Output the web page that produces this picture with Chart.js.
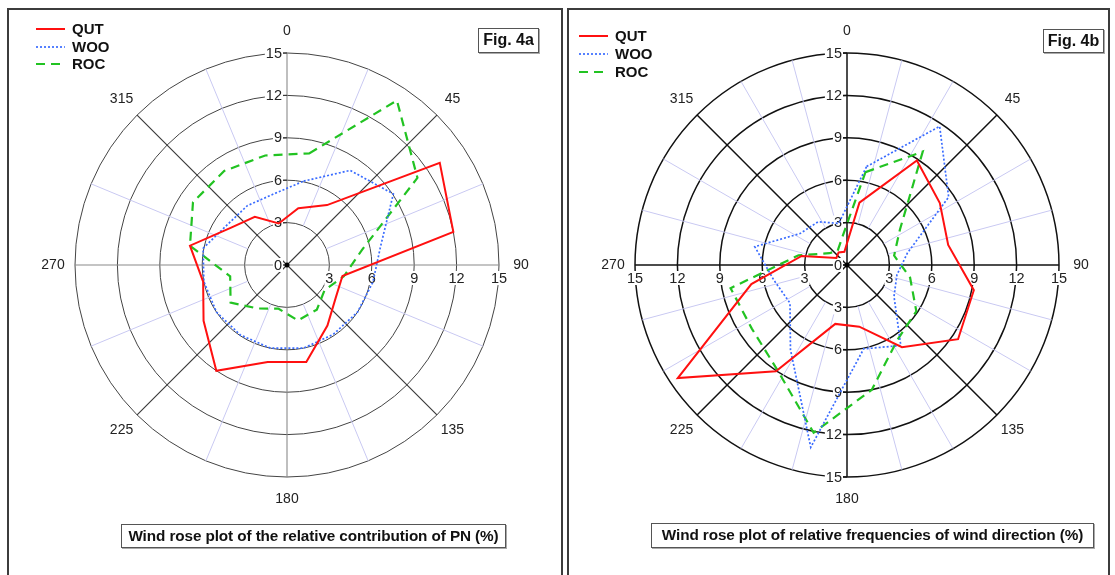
<!DOCTYPE html>
<html>
<head>
<meta charset="utf-8">
<script src="https://cdn.jsdelivr.net/npm/chart.js@4.4.0/dist/chart.umd.min.js"></script>
<style>
  body { margin: 0; background: #fff; font-family: Arial, "Liberation Sans", sans-serif; }
  #page { position: relative; width: 1115px; height: 575px; overflow: hidden; background: #fff; }
  .panel { position: absolute; top: 8px; height: 620px; border: 2px solid #3c3c3c; box-sizing: border-box; }
  canvas { position: absolute; top: 0; }
  .fig { position: absolute; border: 1.5px solid #555; box-sizing: border-box; font-weight: bold; font-size: 16px;
         text-align: center; color: #111; box-shadow: 1px 1px 0 #aaa; }
  .caption { position: absolute; border: 1.5px solid #555; box-sizing: border-box; font-weight: bold; font-size: 15.3px;
             text-align: center; color: #111; white-space: nowrap; box-shadow: 1px 1px 0 #aaa; letter-spacing: -0.1px; }
</style>
</head>
<body>
<div id="page">
  <div class="panel" style="left:7px; width:556px;"></div>
  <div class="panel" style="left:567px; width:543px;"></div>
  <canvas id="roseA" width="562" height="575" style="left:0px"></canvas>
  <canvas id="roseB" width="553" height="575" style="left:562px"></canvas>
  <div class="fig" style="left:478px; top:28px; width:61px; height:25px; line-height:22px;">Fig. 4a</div>
  <div class="fig" style="left:1043px; top:29px; width:61px; height:24px; line-height:21px;">Fig. 4b</div>
  <div class="caption" style="left:121px; top:524px; width:385px; height:24px; line-height:21px;">Wind rose plot of the relative contribution of PN (%)</div>
  <div class="caption" style="left:651px; top:523px; width:443px; height:25px; line-height:22px;">Wind rose plot of relative frequencies of wind direction (%)</div>
</div>
<script>
// sector centres (degrees from north, clockwise)
const directions = [11.25, 33.75, 56.25, 78.75, 101.25, 123.75, 146.25, 168.75,
                    191.25, 213.75, 236.25, 258.75, 281.25, 303.75, 326.25, 348.75];

// Fig. 4a - relative contribution of PN (%)
const qutPN = [4.1, 5.1, 13.0, 12.0, 4.0, 4.15, 5.15, 7.0, 7.0, 9.0, 7.1, 6.05, 7.0, 4.75, 4.1, 3.0];
const wooPN = [6.05, 8.05, 9.05, 6.75, 6.2, 6.0, 5.9, 6.0, 6.0, 5.95, 6.0, 6.0, 6.05, 5.1, 5.05, 5.1];
const rocPN = [8.05, 14.0, 11.1, 5.4, 4.1, 3.2, 3.8, 4.0, 3.15, 3.7, 4.8, 4.1, 7.0, 8.0, 8.0, 7.9];

// Fig. 4b - relative frequencies of wind direction (%)
const qutWind = [4.5, 8.9, 7.9, 7.3, 9.15, 9.45, 7.0, 4.45, 4.25, 9.05, 14.4, 6.9, 3.27, 0.9, 1.07, 0.95];
const wooWind = [7.1, 11.8, 8.65, 4.36, 3.6, 4.0, 6.85, 6.05, 13.15, 7.2, 4.85, 5.3, 6.65, 4.0, 3.68, 3.0];
const rocWind = [6.7, 9.65, 4.5, 3.4, 4.55, 5.9, 6.4, 9.0, 12.1, 8.9, 8.1, 8.4, 3.5, 1.5, 1.2, 1.9];

const ringTicks = [0, 3, 6, 9, 12, 15];
const compassLabels = [0, 45, 90, 135, 180, 225, 270, 315];

const STEP = 3.75; // angular resolution of the spoke grid
const angleLabels = Array.from({length: 360 / STEP}, (_, i) => i * STEP);

function toSpokes(values) {
  return angleLabels.map(a => {
    const k = directions.indexOf(a);
    return k >= 0 ? values[k] : null;
  });
}

const FONT = 'Arial, "Liberation Sans", sans-serif';

const roseDecor = {
  id: 'roseDecor',
  beforeDatasetsDraw(chart, args, o) {
    const ctx = chart.ctx;
    const s = chart.scales.r;
    const cx = s.xCenter, cy = s.yCenter;
    ctx.save();
    // light spokes, starting at the 3 ring
    ctx.strokeStyle = '#c9c9f2';
    ctx.lineWidth = 1;
    angleLabels.forEach((a, i) => {
      if (i % o.lightStep !== 0 || i % 12 === 0) return;
      const p0 = s.getPointPosition(i, s.getDistanceFromCenterForValue(3));
      const p1 = s.getPointPosition(i, s.drawingArea);
      ctx.beginPath(); ctx.moveTo(p0.x, p0.y); ctx.lineTo(p1.x, p1.y); ctx.stroke();
    });
    // compass labels
    ctx.fillStyle = '#222';
    ctx.font = '14px ' + FONT;
    ctx.textAlign = 'center';
    ctx.textBaseline = 'middle';
    compassLabels.forEach(a => {
      const p = s.getPointPosition(a / STEP, s.drawingArea + 22);
      ctx.fillText(String(a), p.x, p.y);
    });
    // radial tick labels
    ctx.font = '14.5px ' + FONT;
    const label = (txt, x, y, align) => {
      ctx.textAlign = align;
      const w = ctx.measureText(txt).width;
      const x0 = align === 'right' ? x - w : x - w / 2;
      ctx.fillStyle = '#fff';
      ctx.fillRect(x0 - 1, y - 7, w + 2, 14);
      ctx.fillStyle = '#222';
      ctx.fillText(txt, x, y + 0.5);
    };
    ctx.strokeStyle = o.lineColor;
    ctx.lineWidth = 1.2;
    ringTicks.forEach(v => {
      const d = s.getDistanceFromCenterForValue(v);
      if (o.sides.includes('n')) {
        ctx.beginPath(); ctx.moveTo(cx - 5, cy - d); ctx.lineTo(cx, cy - d); ctx.stroke();
        label(String(v), cx - 5, cy - d, 'right');
      }
      if (v === 0) return;
      if (o.sides.includes('e')) label(String(v), cx + d, cy + 13, 'center');
      if (o.sides.includes('w')) label(String(v), cx - d, cy + 13, 'center');
      if (o.sides.includes('s')) {
        ctx.beginPath(); ctx.moveTo(cx - 5, cy + d); ctx.lineTo(cx, cy + d); ctx.stroke();
        label(String(v), cx - 5, cy + d, 'right');
      }
    });
    ctx.restore();
  },
  afterDatasetsDraw(chart, args, o) {
    const ctx = chart.ctx;
    const s = chart.scales.r;
    ctx.save();
    ctx.fillStyle = '#000';
    ctx.beginPath(); ctx.arc(s.xCenter, s.yCenter, 2.5, 0, Math.PI * 2); ctx.fill();
    // legend
    ctx.font = 'bold 15px ' + FONT;
    ctx.textAlign = 'left';
    ctx.textBaseline = 'middle';
    chart.data.datasets.forEach((ds, i) => {
      const y = o.legendY[i];
      ctx.strokeStyle = ds.borderColor;
      ctx.lineWidth = ds.borderWidth;
      ctx.setLineDash(ds.borderDash || []);
      ctx.beginPath(); ctx.moveTo(o.legendX, y); ctx.lineTo(o.legendX + 29, y); ctx.stroke();
      ctx.setLineDash([]);
      ctx.fillStyle = '#111';
      ctx.fillText(ds.label, o.legendX + 36, y + 0.5);
    });
    ctx.restore();
  }
};

function makeRose(id, qut, woo, roc, decor) {
  const strong = decor.lineColor;
  return new Chart(document.getElementById(id), {
    type: 'radar',
    data: {
      labels: angleLabels,
      datasets: [
        { label: 'QUT', data: toSpokes(qut), borderColor: '#ff1010', borderWidth: 2, spanGaps: true, fill: false, backgroundColor: 'transparent' },
        { label: 'WOO', data: toSpokes(woo), borderColor: '#3a6cff', borderWidth: 1.7, borderDash: [2, 2], spanGaps: true, fill: false, backgroundColor: 'transparent' },
        { label: 'ROC', data: toSpokes(roc), borderColor: '#22c322', borderWidth: 2.2, borderDash: [9, 6], spanGaps: true, fill: false, backgroundColor: 'transparent' }
      ]
    },
    options: {
      responsive: false,
      animation: false,
      layout: { padding: decor.padding },
      elements: { point: { radius: 0, hoverRadius: 0 }, line: { tension: 0 } },
      plugins: { legend: { display: false }, tooltip: { enabled: false }, roseDecor: decor },
      scales: {
        r: {
          min: 0, max: 15, startAngle: 0,
          ticks: { display: false, stepSize: 3 },
          pointLabels: { display: false },
          grid: { circular: true, color: decor.ringColor, lineWidth: decor.ringWidth },
          angleLines: {
            color: c => c.index % 24 === 0 ? decor.axisColor : (c.index % 12 === 0 ? strong : 'rgba(0,0,0,0)'),
            lineWidth: c => c.index % 12 === 0 ? decor.spokeWidth : 0
          }
        }
      }
    },
    plugins: [roseDecor]
  });
}

makeRose('roseA', qutPN, wooPN, rocPN, {
  padding: { left: 75, right: 63, top: 53, bottom: 98 },
  lightStep: 6, sides: ['n', 'e'],
  ringColor: '#444', ringWidth: 1, lineColor: '#3a3a3a', axisColor: '#8a8a8a', spokeWidth: 1.1,
  legendX: 36, legendY: [29, 47, 64]
});

makeRose('roseB', qutWind, wooWind, rocWind, {
  padding: { left: 73, right: 56, top: 53, bottom: 98 },
  lightStep: 4, sides: ['n', 'e', 'w', 's'],
  ringColor: '#111', ringWidth: 1.5, lineColor: '#111', axisColor: '#111', spokeWidth: 1.5,
  legendX: 17, legendY: [36, 54, 72]
});
</script>
</body>
</html>
